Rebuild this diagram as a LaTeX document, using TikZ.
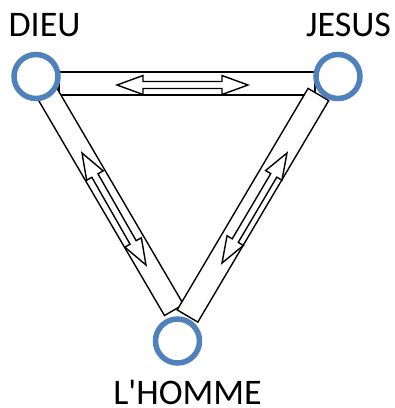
\documentclass[tikz,border=0pt]{standalone}
\usepackage{fontspec}
\setmainfont{Carlito}
\usepackage{tikz}
\usetikzlibrary{calc}
\definecolor{rblue}{HTML}{4F81BD}
\newcommand{\tube}[3]{% bar from #1 to #2, half width #3
  \draw[tube] ($(#1)!#3!90:(#2)$) -- ($(#2)!#3!-90:(#1)$) -- ($(#2)!#3!90:(#1)$) -- ($(#1)!#3!-90:(#2)$) -- cycle;}
\newcommand{\dblarr}[2]{% hollow double arrow, tips #1 and #2
  \draw[harr] (#1) -- ($(#1)!26pt!(#2)!9.5pt!90:(#2)$) -- ($(#1)!26pt!(#2)!3.5pt!90:(#2)$)
    -- ($(#2)!26pt!(#1)!3.5pt!-90:(#1)$) -- ($(#2)!26pt!(#1)!9.5pt!-90:(#1)$) -- (#2)
    -- ($(#2)!26pt!(#1)!9.5pt!90:(#1)$) -- ($(#2)!26pt!(#1)!3.5pt!90:(#1)$)
    -- ($(#1)!26pt!(#2)!3.5pt!-90:(#2)$) -- ($(#1)!26pt!(#2)!9.5pt!-90:(#2)$) -- cycle;}
\tikzset{
  ring/.style={circle,draw=rblue,fill=white,line width=5.5pt,minimum size=44pt,inner sep=0pt},
  tube/.style={draw=black,fill=white,line width=1.4pt,line join=miter},
  harr/.style={draw=black,fill=white,line width=1.4pt,line join=miter},
  lbl/.style={font=\fontsize{36}{40}\selectfont,anchor=base,inner sep=0pt},
}
\begin{document}
\begin{tikzpicture}[x=1pt,y=-1pt]
  \useasboundingbox (0,0) rectangle (395,408);
  % ends of the bars
  \coordinate (t1) at (59,83.5);  \coordinate (t2) at (315,83.5);
  \coordinate (l1) at (47,93);    \coordinate (l2) at (174,310);
  \coordinate (r1) at (318.4,94.5); \coordinate (r2) at (187.5,316);
  \tube{t1}{t2}{11.5pt}
  \tube{l1}{l2}{11pt}
  \tube{r1}{r2}{12pt}
  % double arrows
  \coordinate (ta) at (117,85);  \coordinate (tb) at (248,85);
  \coordinate (la) at (82,153);  \coordinate (lb) at (146,265);
  \coordinate (ra) at (287,153); \coordinate (rb) at (222,263);
  \dblarr{ta}{tb}
  \dblarr{la}{lb}
  \dblarr{ra}{rb}
  % circles
  \node[ring] (dieu) at (36,76.5) {};
  \node[ring] (jesus) at (338,76.5) {};
  \node[ring] (homme) at (177.5,341) {};
  \node[lbl] (ldieu) at (44.5,36) {DIEU};
  \node[lbl] (ljesus) at (348.5,36) {JESUS};
  \node[lbl] (lhomme) at (187.5,404) {L\textquotesingle HOMME};
\end{tikzpicture}
\end{document}
